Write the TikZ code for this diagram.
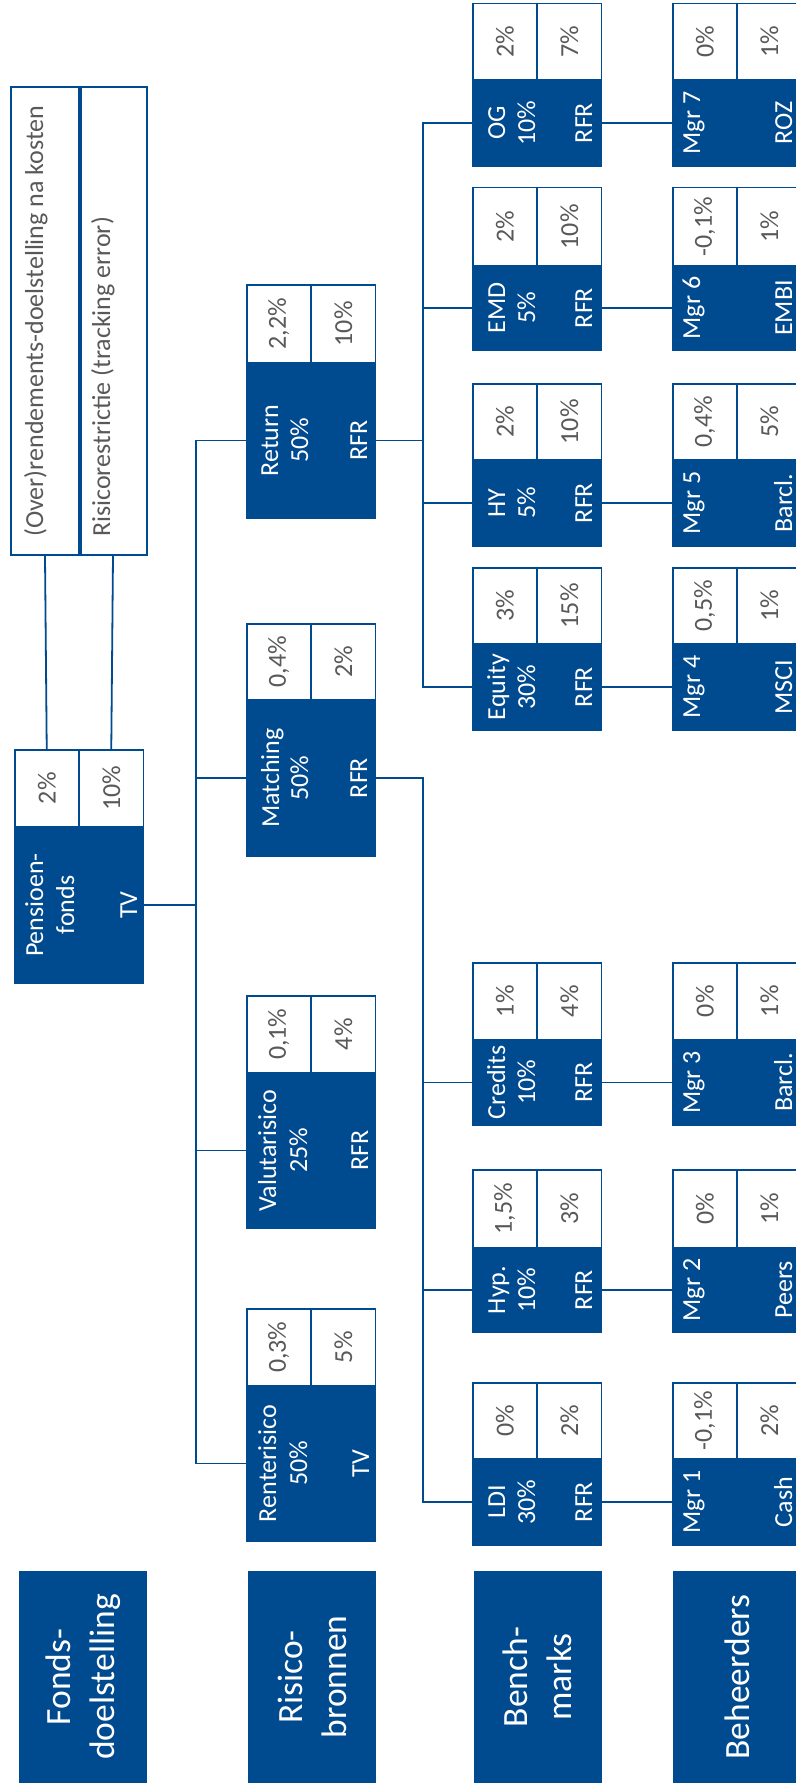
\documentclass[tikz,border=0pt]{standalone}
\usepackage{fontspec}
\setmainfont{Carlito}
\definecolor{boxblue}{RGB}{0,74,144}
\definecolor{txtgray}{RGB}{89,89,89}
\tikzset{
  conn/.style={draw=boxblue, line width=1.8pt},
  bluepart/.style={fill=boxblue, inner sep=0pt, outer sep=0pt, minimum width=130pt},
  cellbox/.style={fill=white, inner sep=0pt, outer sep=0pt, minimum height=62.5pt, rotate=90, text=txtgray, font=\fontsize{26}{30}\selectfont},
  boxlabel/.style={rotate=90, anchor=base, inner sep=0pt, text=white, font=\fontsize{26}{30}\selectfont},
  header/.style={fill=boxblue, rotate=90, inner sep=0pt, minimum width=212pt, minimum height=128pt, text=white, align=center, font=\fontsize{35.5}{44}\selectfont},
  frame/.style={draw=boxblue, line width=2pt, inner sep=0pt, fill=white},
  toptext/.style={rotate=90, anchor=base west, inner sep=0pt, text=txtgray, font=\fontsize{26}{30}\selectfont},
}
\newcommand{\BoxFrame}[7]{%
  \fill[boxblue] (#2,#3) rectangle (#2+130,#5);
  \node[bluepart, minimum height={#5-#4}, anchor=north west] (#1) at (#2,#4) {};
  \node[cellbox, minimum width={#4-#3-1.5}] (#1-c1) at (#2+32.75,{(#3+1.5+#4)/2}) {#6};
  \node[cellbox, minimum width={#4-#3-1.5}] (#1-c2) at (#2+97.25,{(#3+1.5+#4)/2}) {#7};
}
\newcommand{\BoxText}[7]{%
  \node[boxlabel] (#1-l1) at ([xshift=#2pt]#1.west) {#3};
  \node[boxlabel] (#1-l2) at ([xshift=#4pt]#1.west) {#5};
  \node[boxlabel] (#1-lb) at ([xshift=#6pt]#1.west) {#7};
}
\newcommand{\MgrText}[3]{%
  \node[boxlabel] (#1-l1) at ([xshift=28pt]#1.west) {#2};
  \node[boxlabel] (#1-lb) at ([xshift=120pt]#1.west) {#3};
}
\begin{document}
\begin{tikzpicture}[x=1pt,y=-1pt]
\useasboundingbox (0,0) rectangle (795,1787);

% headers
\node[header] (hFonds) at (83,1677) {Fonds-\\doelstelling};
\node[header] (hRisico) at (312,1677) {Risico-\\bronnen};
\node[header] (hBench) at (537.5,1677) {Bench-\\marks};
\node[header] (hBeh) at (737,1677) {Beheerders};

% top box
\node[frame, minimum width=68pt, minimum height=468pt, anchor=north west] (ov) at (10,86) {};
\node[frame, minimum width=68pt, minimum height=468pt, anchor=north west] (ri) at (78,86) {};
\draw[boxblue, line width=4pt] (ov.north east) -- (ov.south east);
\node[toptext] (ovt) at (43,537) {(Over)rendements-doelstelling na kosten};
\node[toptext] (rit) at (110,537) {Risicorestrictie (tracking error)};

% pension fund
\BoxFrame{pf}{14}{749}{826}{984}{2\%}{10\%}
\BoxText{pf}{29}{Pensioen-}{60}{fonds}{123}{TV}

% risk sources
\BoxFrame{ret}{246}{284}{362}{519}{2,2\%}{10\%}
\BoxText{ret}{32}{Return}{62}{50\%}{121}{RFR}
\BoxFrame{mat}{246}{623}{699}{857}{0,4\%}{2\%}
\BoxText{mat}{33}{Matching}{62}{50\%}{121}{RFR}
\BoxFrame{val}{246}{995}{1072}{1229}{0,1\%}{4\%}
\BoxText{val}{30}{Valutarisico}{61}{25\%}{122}{RFR}
\BoxFrame{rent}{246}{1308}{1385}{1542}{0,3\%}{5\%}
\BoxText{rent}{30}{Renterisico}{61}{50\%}{123}{TV}

% benchmarks
\BoxFrame{og}{472}{3}{79}{167}{2\%}{7\%}
\BoxText{og}{33}{OG}{63}{10\%}{120}{RFR}
\BoxFrame{emd}{472}{187}{265}{351}{2\%}{10\%}
\BoxText{emd}{33}{EMD}{63}{5\%}{120}{RFR}
\BoxFrame{hy}{472}{383}{459}{547}{2\%}{10\%}
\BoxText{hy}{33}{HY}{63}{5\%}{120}{RFR}
\BoxFrame{eq}{472}{567}{643}{731}{3\%}{15\%}
\BoxText{eq}{33}{Equity}{63}{30\%}{120}{RFR}
\BoxFrame{cred}{472}{962}{1039}{1126}{1\%}{4\%}
\BoxText{cred}{33}{Credits}{63}{10\%}{120}{RFR}
\BoxFrame{hyp}{472}{1169}{1247}{1333}{1,5\%}{3\%}
\BoxText{hyp}{33}{Hyp.}{63}{10\%}{120}{RFR}
\BoxFrame{ldi}{472}{1382}{1458}{1546}{0\%}{2\%}
\BoxText{ldi}{33}{LDI}{63}{30\%}{120}{RFR}

% managers
\BoxFrame{m7}{672}{3}{79}{167}{0\%}{1\%}
\MgrText{m7}{Mgr 7}{ROZ}
\BoxFrame{m6}{672}{187}{265}{351}{-0,1\%}{1\%}
\MgrText{m6}{Mgr 6}{EMBI}
\BoxFrame{m5}{672}{383}{459}{547}{0,4\%}{5\%}
\MgrText{m5}{Mgr 5}{Barcl.}
\BoxFrame{m4}{672}{567}{643}{731}{0,5\%}{1\%}
\MgrText{m4}{Mgr 4}{MSCI}
\BoxFrame{m3}{672}{962}{1039}{1126}{0\%}{1\%}
\MgrText{m3}{Mgr 3}{Barcl.}
\BoxFrame{m2}{672}{1169}{1247}{1333}{0\%}{1\%}
\MgrText{m2}{Mgr 2}{Peers}
\BoxFrame{m1}{672}{1382}{1458}{1546}{-0,1\%}{2\%}
\MgrText{m1}{Mgr 1}{Cash}

% connectors
\coordinate (trA) at (196,0);
\coordinate (trB) at (423,0);
\draw[conn] (ov.south) -- (pf-c1.east);
\draw[conn] (ri.south) -- (pf-c2.east);
\draw[conn] (pf.east) -- (pf.east -| trA);
\draw[conn] (ret.west) -- (ret.west -| trA) -- (rent.west -| trA) -- (rent.west);
\draw[conn] (mat.west) -- (mat.west -| trA);
\draw[conn] (val.west) -- (val.west -| trA);
\draw[conn] (ret.east) -- (ret.east -| trB);
\draw[conn] (og.west) -- (og.west -| trB) -- (eq.west -| trB) -- (eq.west);
\draw[conn] (emd.west) -- (emd.west -| trB);
\draw[conn] (hy.west) -- (hy.west -| trB);
\draw[conn] (mat.east) -- (mat.east -| trB) -- (ldi.west -| trB) -- (ldi.west);
\draw[conn] (cred.west) -- (cred.west -| trB);
\draw[conn] (hyp.west) -- (hyp.west -| trB);
\draw[conn] (og.east) -- (m7.west);
\draw[conn] (emd.east) -- (m6.west);
\draw[conn] (hy.east) -- (m5.west);
\draw[conn] (eq.east) -- (m4.west);
\draw[conn] (cred.east) -- (m3.west);
\draw[conn] (hyp.east) -- (m2.west);
\draw[conn] (ldi.east) -- (m1.west);
\end{tikzpicture}
\end{document}
